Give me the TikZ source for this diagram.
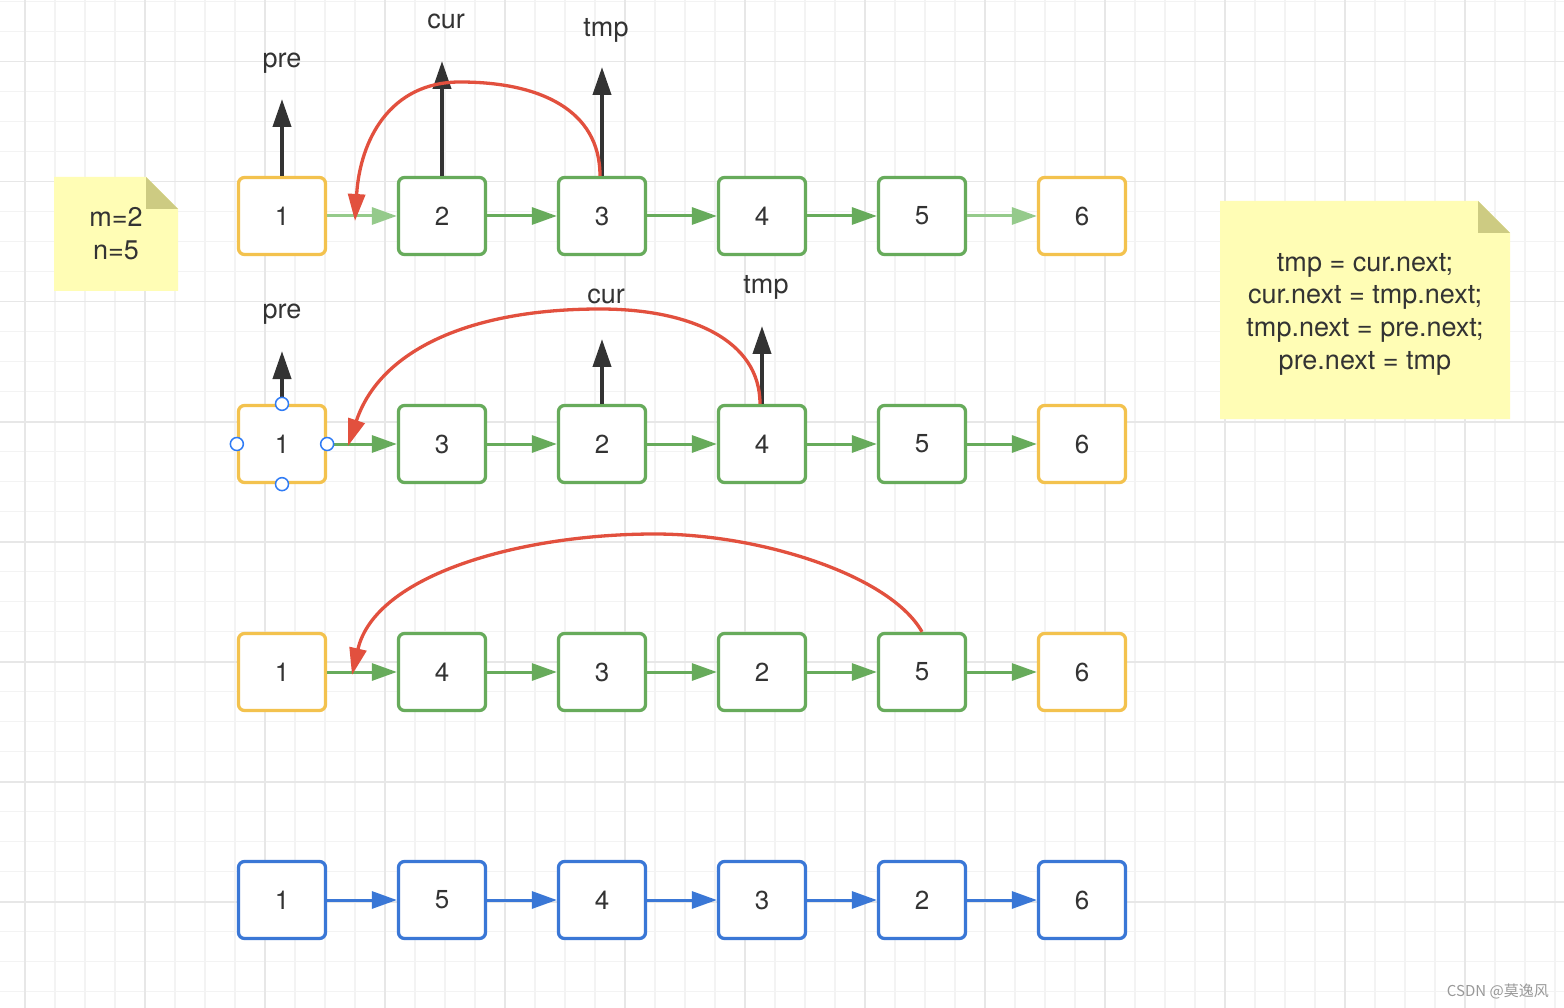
\documentclass[tikz,border=0pt]{standalone}
\usepackage{fontspec}
\setmainfont{TeX Gyre Heros}
\newfontfamily\cjkfont{Noto Sans CJK SC}
\usetikzlibrary{arrows.meta}
\definecolor{gridminor}{HTML}{F3F3F3}
\definecolor{gridmajor}{HTML}{E7E7E7}
\definecolor{nodeyellow}{HTML}{F3C24E}
\definecolor{nodegreen}{HTML}{67AB5B}
\definecolor{lightgreen}{HTML}{95CA8B}
\definecolor{nodeblue}{HTML}{3A77D6}
\definecolor{redline}{HTML}{E2503E}
\definecolor{darkline}{HTML}{333333}
\definecolor{txt}{HTML}{333333}
\definecolor{notefill}{HTML}{FFFDB5}
\definecolor{notefold}{HTML}{CDCB82}
\definecolor{handle}{HTML}{2F7BF5}
\begin{document}
\begin{tikzpicture}[x=1pt,y=-1pt,
  box/.style={draw, line width=3.3pt, rounded corners=6pt, fill=white,
    minimum width=87pt, minimum height=77pt, inner sep=0pt, text=txt,
    font=\fontsize{26}{31}\selectfont},
  ybox/.style={box, draw=nodeyellow},
  gbox/.style={box, draw=nodegreen},
  bbox/.style={box, draw=nodeblue},
  link/.style={line width=3pt, -{Triangle[length=25pt,width=17pt]}},
  glink/.style={link, draw=nodegreen},
  lglink/.style={link, draw=lightgreen},
  blink/.style={link, draw=nodeblue},
  ptr/.style={line width=4pt, draw=darkline, -{Triangle[length=28pt,width=18pt]}},
  swapline/.style={line width=3.3pt, draw=redline, -{Triangle[length=27pt,width=17pt]}},
  lbl/.style={text=txt, font=\fontsize{27}{32}\selectfont, anchor=base, inner sep=0pt},
  notetext/.style={text=txt, align=center, inner sep=0pt},
  handledot/.style={circle, draw=handle, fill=white, line width=1.5pt,
    minimum size=13pt, inner sep=0pt},
]
\useasboundingbox (0,0) rectangle (1564,1008);
\fill[white] (0,0) rectangle (1564,1008);
% grid
\foreach \k in {0,...,33} \draw[gridminor, line width=1.2pt] (0,{1.7+30*\k}) -- (1564,{1.7+30*\k});
\foreach \k in {0,...,51} \draw[gridminor, line width=1.2pt] ({25+30*\k},0) -- ({25+30*\k},1008);
\foreach \k in {0,...,7} \draw[gridmajor, line width=1.6pt] (0,{61.7+120*\k}) -- (1564,{61.7+120*\k});
\foreach \k in {0,...,12} \draw[gridmajor, line width=1.6pt] ({25+120*\k},0) -- ({25+120*\k},1008);

% notes
\fill[notefill] (54,177) -- (146,177) -- (178,209) -- (178,291) -- (54,291) -- cycle;
\fill[notefold] (146,177) -- (178,209) -- (146,209) -- cycle;
\node[notetext, font=\fontsize{27}{33}\selectfont] (note1) at (116,233.5) {m=2\\n=5};
\fill[notefill] (1220,201) -- (1478,201) -- (1510,233) -- (1510,419) -- (1220,419) -- cycle;
\fill[notefold] (1478,201) -- (1510,233) -- (1478,233) -- cycle;
\node[notetext, font=\fontsize{27}{32.7}\selectfont] (note2) at (1365,314)
  {tmp = cur.next;\\cur.next = tmp.next;\\tmp.next = pre.next;\\pre.next = tmp};

% row 1
\node[ybox] (r1n1) at (282,216) {1};
\node[gbox] (r1n2) at (442,216) {2};
\node[gbox] (r1n3) at (602,216) {3};
\node[gbox] (r1n4) at (762,216) {4};
\node[gbox] (r1n5) at (922,216) {5};
\node[ybox] (r1n6) at (1082,216) {6};
% row 2
\node[ybox] (r2n1) at (282,444) {1};
\node[gbox] (r2n2) at (442,444) {3};
\node[gbox] (r2n3) at (602,444) {2};
\node[gbox] (r2n4) at (762,444) {4};
\node[gbox] (r2n5) at (922,444) {5};
\node[ybox] (r2n6) at (1082,444) {6};
% row 3
\node[ybox] (r3n1) at (282,672) {1};
\node[gbox] (r3n2) at (442,672) {4};
\node[gbox] (r3n3) at (602,672) {3};
\node[gbox] (r3n4) at (762,672) {2};
\node[gbox] (r3n5) at (922,672) {5};
\node[ybox] (r3n6) at (1082,672) {6};
% row 4
\node[bbox] (r4n1) at (282,900) {1};
\node[bbox] (r4n2) at (442,900) {5};
\node[bbox] (r4n3) at (602,900) {4};
\node[bbox] (r4n4) at (762,900) {3};
\node[bbox] (r4n5) at (922,900) {2};
\node[bbox] (r4n6) at (1082,900) {6};

% links
\draw[lglink] (r1n1.east) -- (r1n2.west);
\draw[glink] (r1n2.east) -- (r1n3.west);
\draw[glink] (r1n3.east) -- (r1n4.west);
\draw[glink] (r1n4.east) -- (r1n5.west);
\draw[lglink] (r1n5.east) -- (r1n6.west);
\foreach \r in {2,3} {
  \draw[glink] (r\r n1.east) -- (r\r n2.west);
  \draw[glink] (r\r n2.east) -- (r\r n3.west);
  \draw[glink] (r\r n3.east) -- (r\r n4.west);
  \draw[glink] (r\r n4.east) -- (r\r n5.west);
  \draw[glink] (r\r n5.east) -- (r\r n6.west);
}
\draw[blink] (r4n1.east) -- (r4n2.west);
\draw[blink] (r4n2.east) -- (r4n3.west);
\draw[blink] (r4n3.east) -- (r4n4.west);
\draw[blink] (r4n4.east) -- (r4n5.west);
\draw[blink] (r4n5.east) -- (r4n6.west);

% pointers row 1
\coordinate (p1pre) at (282,99);
\coordinate (p1cur) at (442,61);
\coordinate (p1tmp) at (602,67);
\draw[ptr] (r1n1.north) -- (p1pre);
\draw[ptr] (r1n2.north) -- (p1cur);
\draw[ptr] (r1n3.north) -- (p1tmp);
\node[lbl] (l1pre) at (282,68) {pre};
\node[lbl] (l1cur) at (446,29) {cur};
\node[lbl] (l1tmp) at (606,37) {tmp};
% pointers row 2
\coordinate (p2pre) at (282,351);
\coordinate (p2cur) at (602,339);
\coordinate (p2tmp) at (762,326);
\draw[ptr] (r2n1.north) -- (p2pre);
\draw[ptr] (r2n3.north) -- (p2cur);
\draw[ptr] (r2n4.north) -- (p2tmp);
\node[lbl] (l2pre) at (282,319) {pre};
\node[lbl] (l2cur) at (606,304) {cur};
\node[lbl] (l2tmp) at (766,294) {tmp};

% red swap curves
\coordinate (e1) at (355,221);
\coordinate (e2) at (348,446);
\coordinate (e3) at (352,675);
\draw[swapline] ([xshift=-2pt]r1n3.north) .. controls (600,110) and (540,82) .. (460,82)
  .. controls (390,82) and (360,140) .. (e1);
\draw[swapline] ([xshift=-2pt]r2n4.north) .. controls (760,340) and (690,309) .. (600,309)
  .. controls (470,309) and (380,350) .. (e2);
\draw[swapline] (r3n5.north) .. controls (890,575) and (760,534) .. (655,534)
  .. controls (520,534) and (375,575) .. (e3);

% selection handles
\node[handledot] (h1) at (r2n1.north) {};
\node[handledot] (h2) at (r2n1.south) {};
\node[handledot] (h3) at (r2n1.west) {};
\node[handledot] (h4) at (r2n1.east) {};

% watermark
\node[anchor=east, inner sep=0pt, text=black!40, font=\cjkfont\fontsize{15}{17}\selectfont] (wm) at (1549,991) {CSDN @莫逸风};
\end{tikzpicture}
\end{document}
